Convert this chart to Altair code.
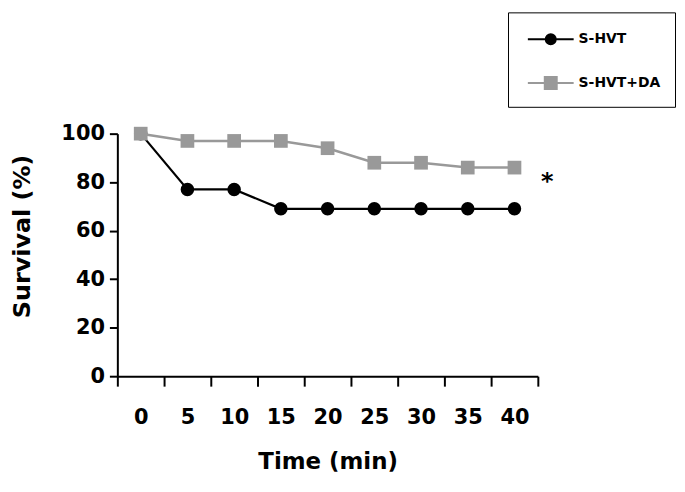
import altair as alt
import pandas as pd

times = ["0", "5", "10", "15", "20", "25", "30", "35", "40"]
shvt = [100, 77, 77, 69, 69, 69, 69, 69, 69]
shvt_da = [100, 97, 97, 97, 94, 88, 88, 86, 86]
series_names = ["S-HVT", "S-HVT+DA"]
series_colors = ["black", "#999999"]
y_ticks = [0, 20, 40, 60, 80, 100]
star_label = ["*"]
star_time = ["40"]
star_value = [81]

rows = []
for t, v in zip(times, shvt):
    rows.append({"time": t, "value": v, "series": "S-HVT"})
for t, v in zip(times, shvt_da):
    rows.append({"time": t, "value": v, "series": "S-HVT+DA"})
df = pd.DataFrame(rows)
star_df = pd.DataFrame({"time": star_time, "value": star_value, "label": star_label})

FONT = "DejaVu Sans"

circle_path = "M-1.92,0H1.92M0.42,0A0.42,0.42,0,1,1,-0.42,0A0.42,0.42,0,1,1,0.42,0Z"
square_path = "M-1.92,0H1.92M-0.5,-0.5H0.5V0.5H-0.5Z"

legend = alt.Legend(
    title=None, orient="none", legendX=393, legendY=-122,
    strokeColor="black", padding=14, symbolSize=576, symbolOffset=16,
    labelOffset=15, rowPadding=21, symbolStrokeWidth=2, symbolOpacity=1,
    labelFont=FONT, labelFontSize=14, labelFontWeight="bold", labelColor="black",
)

x_enc = alt.X(
    "time:N", sort=times,
    scale=alt.Scale(type="band", paddingInner=0, paddingOuter=0),
    axis=alt.Axis(
        title="Time (min)", tickBand="extent", labelAngle=0,
        labelFont=FONT, labelFontSize=21, labelFontWeight="bold", labelColor="black",
        labelPadding=21, tickSize=10, tickWidth=2, tickColor="black",
        domainColor="black", domainWidth=2,
        titleFont=FONT, titleFontSize=23, titleFontWeight="bold", titleColor="black",
        titlePadding=23,
    ),
)
y_enc = alt.Y(
    "value:Q", scale=alt.Scale(domain=[0, 100], nice=False),
    axis=alt.Axis(
        title="Survival (%)", values=y_ticks, grid=False,
        labelFont=FONT, labelFontSize=21, labelFontWeight="bold", labelColor="black",
        labelPadding=5, tickSize=8, tickWidth=2, tickColor="black",
        domainColor="black", domainWidth=2,
        titleFont=FONT, titleFontSize=24, titleFontWeight="bold", titleColor="black",
        titleX=-95, titleY=103, titleBaseline="middle",
    ),
)
color_enc = alt.Color("series:N", scale=alt.Scale(domain=series_names, range=series_colors), legend=legend)

base = alt.Chart(df)
black_line = base.mark_line(strokeWidth=2.2).encode(x=x_enc, y=y_enc, color=color_enc).transform_filter(
    alt.datum.series == "S-HVT")
gray_line = base.mark_line(strokeWidth=2.5).encode(x=x_enc, y=y_enc, color=color_enc).transform_filter(
    alt.datum.series == "S-HVT+DA")
black_pts = base.mark_point(filled=True, opacity=1, size=185, shape="circle").encode(
    x=x_enc, y=y_enc, color=color_enc).transform_filter(alt.datum.series == "S-HVT")
gray_pts = base.mark_point(filled=True, opacity=1, size=190, shape="square").encode(
    x=x_enc, y=y_enc, color=color_enc).transform_filter(alt.datum.series == "S-HVT+DA")

legend_layer = base.mark_point(filled=True, opacity=0).encode(
    x=x_enc, y=y_enc,
    fill=alt.Fill("series:N", scale=alt.Scale(domain=series_names, range=series_colors), legend=legend),
    stroke=alt.Stroke("series:N", scale=alt.Scale(domain=series_names, range=series_colors), legend=legend),
    shape=alt.Shape("series:N", scale=alt.Scale(domain=series_names, range=[circle_path, square_path]), legend=legend),
)

star = alt.Chart(star_df).mark_text(
    font=FONT, fontSize=24, fontWeight="bold", color="black", dx=33, dy=2
).encode(x=x_enc, y=y_enc, text="label:N")

chart = alt.layer(black_line, black_pts, gray_line, gray_pts, legend_layer, star).properties(
    width=423, height=244, background="white",
    autosize=alt.AutoSizeParams(type="none"),
    padding={"left": 110, "top": 125, "right": 140, "bottom": 100},
).configure_view(stroke=None)

chart.save("out.html", embed_options={"renderer": "svg", "actions": False})
